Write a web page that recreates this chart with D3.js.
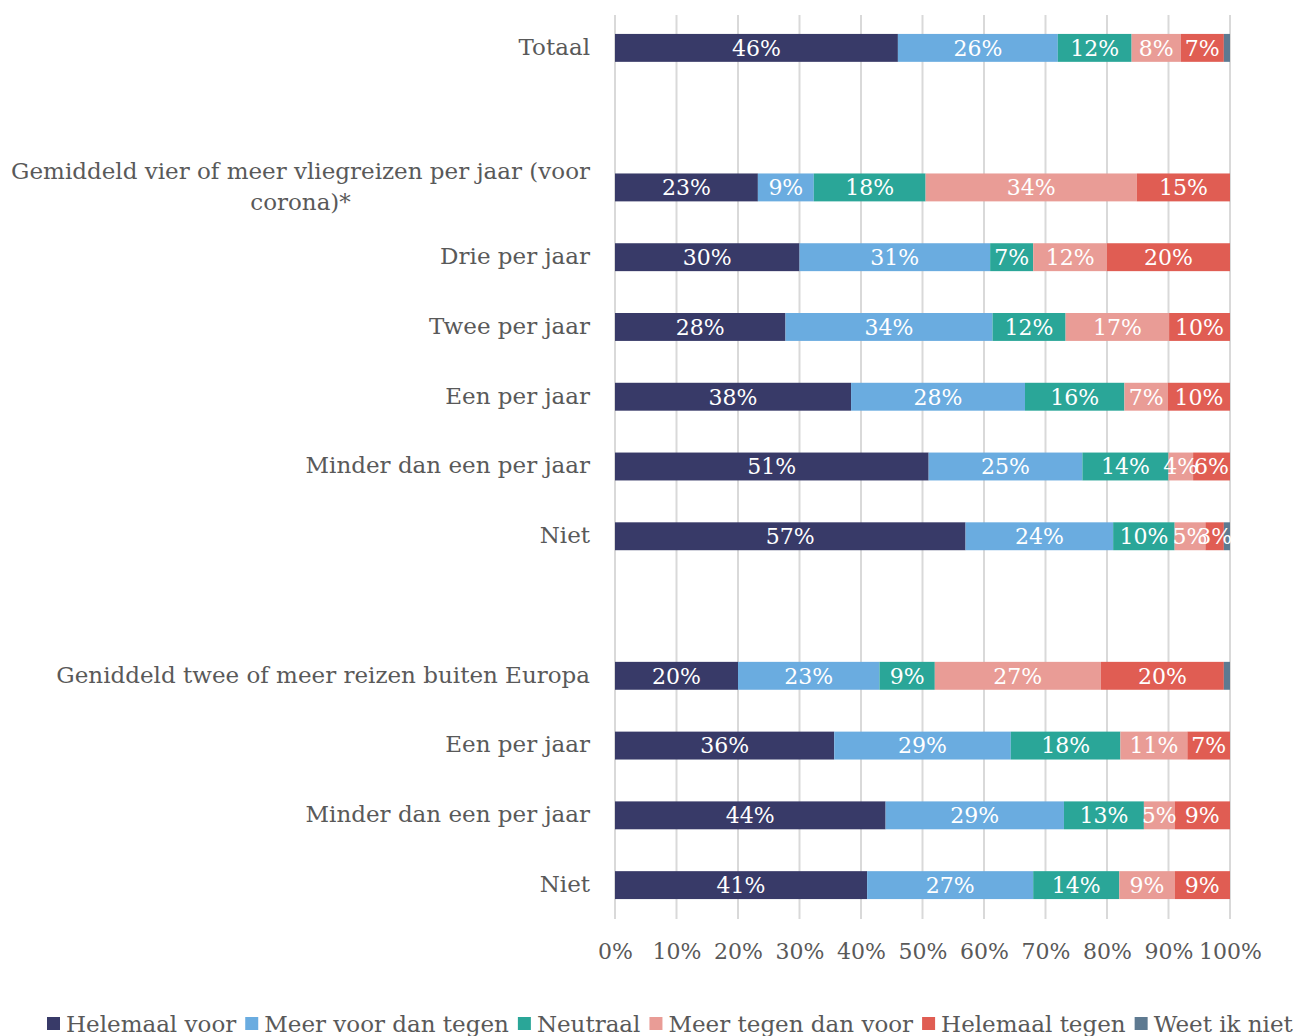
<!DOCTYPE html>
<html><head><meta charset="utf-8">
<script src="https://cdn.jsdelivr.net/npm/d3@7"></script>
<style>
html,body{margin:0;padding:0;background:#fff;}
svg{display:block;font-family:"DejaVu Serif",serif;}
</style></head>
<body><svg id="chart" width="1296" height="1036"></svg>
<script>
const categories = ["Totaal", "", "Gemiddeld vier of meer vliegreizen per jaar (voor corona)*", "Drie per jaar", "Twee per jaar", "Een per jaar", "Minder dan een per jaar", "Niet", "", "Geniddeld twee of meer reizen buiten Europa", "Een per jaar", "Minder dan een per jaar", "Niet"];
const seriesNames = ["Helemaal voor", "Meer voor dan tegen", "Neutraal", "Meer tegen dan voor", "Helemaal tegen", "Weet ik niet"];
const seriesColors = ["#383a68", "#6aace0", "#2aa698", "#e99c96", "#e05d53", "#5e7a91"];
const helemaalVoor  = [46, null, 23, 30, 28, 38, 51, 57, null, 20, 36, 44, 41];
const meerVoor      = [26, null,  9, 31, 34, 28, 25, 24, null, 23, 29, 29, 27];
const neutraal      = [12, null, 18,  7, 12, 16, 14, 10, null,  9, 18, 13, 14];
const meerTegen     = [ 8, null, 34, 12, 17,  7,  4,  5, null, 27, 11,  5,  9];
const helemaalTegen = [ 7, null, 15, 20, 10, 10,  6,  3, null, 20,  7,  9,  9];
const weetIkNiet    = [ 1, null,  0,  0,  0,  0,  0,  1, null,  1,  0,  0,  0];
const tickValues = [0, 10, 20, 30, 40, 50, 60, 70, 80, 90, 100];

const allSeries = [helemaalVoor, meerVoor, neutraal, meerTegen, helemaalTegen, weetIkNiet];
const svg = d3.select("#chart");
const plotL = 615, plotR = 1230, plotT = 15, plotB = 919;
const x = d3.scaleLinear().domain([0, 100]).range([plotL, plotR]);
const y = d3.scaleBand().domain(categories.map((c, i) => i)).range([13, 920]).paddingInner(0.6).paddingOuter(0.3);
const textColor = "#595959";

// gridlines
svg.append("g").selectAll("line").data(tickValues).join("line")
  .attr("x1", d => x(d)).attr("x2", d => x(d))
  .attr("y1", plotT).attr("y2", plotB)
  .attr("stroke", "#d9d9d9").attr("stroke-width", 2);

// stacked data (normalized to 100%)
const rows = categories.map((c, i) => {
  const vals = allSeries.map(s => s[i]);
  if (vals[0] == null) return null;
  const total = d3.sum(vals);
  let cum = 0;
  return vals.map((v, k) => { const s0 = cum / total * 100; cum += v; return {row: i, k, v, x0: s0, x1: cum / total * 100}; });
}).filter(r => r);
const segs = rows.flat().filter(d => d.v > 0);

const bars = svg.append("g");
bars.selectAll("rect").data(segs).join("rect")
  .attr("x", d => x(d.x0)).attr("width", d => x(d.x1) - x(d.x0))
  .attr("y", d => y(d.row)).attr("height", y.bandwidth())
  .attr("fill", d => seriesColors[d.k]);

bars.selectAll("text").data(segs.filter(d => d.v >= 2)).join("text")
  .attr("x", d => (x(d.x0) + x(d.x1)) / 2)
  .attr("y", d => y(d.row) + y.bandwidth() / 2)
  .attr("dy", "0.36em")
  .attr("text-anchor", "middle")
  .attr("fill", "#fff").attr("font-size", 22)
  .text(d => d.v + "%");

// category labels
const catG = svg.append("g");
const catFont = 23, lineH = 31, maxW = 585;
categories.forEach((c, i) => {
  if (!c) return;
  const cy = y(i) + y.bandwidth() / 2;
  const words = c.split(" ");
  const lines = [];
  let cur = [];
  const probe = catG.append("text").attr("font-size", catFont);
  words.forEach(w => {
    const test = cur.concat([w]).join(" ");
    probe.text(test);
    if (probe.node().getComputedTextLength() > maxW && cur.length) { lines.push(cur.join(" ")); cur = [w]; }
    else cur.push(w);
  });
  lines.push(cur.join(" "));
  probe.remove();
  if (lines.length === 1) {
    catG.append("text").attr("font-size", catFont).attr("fill", textColor).attr("text-anchor", "end")
      .attr("x", 590).attr("y", cy).attr("dy", "0.3em").text(lines[0]);
  } else {
    const widths = lines.map(l => { const p = catG.append("text").attr("font-size", catFont).text(l); const w = p.node().getComputedTextLength(); p.remove(); return w; });
    const maxLW = d3.max(widths);
    const cx = 590 - maxLW / 2;
    lines.forEach((l, j) => {
      catG.append("text").attr("font-size", catFont).attr("fill", textColor).attr("text-anchor", "middle")
        .attr("x", cx).attr("y", cy + (j - (lines.length - 1) / 2) * lineH).attr("dy", "0.3em").text(l);
    });
  }
});

// x axis
const axis = d3.axisBottom(x).tickValues(tickValues).tickFormat(d => d + "%").tickSize(0).tickPadding(0);
const ag = svg.append("g").attr("transform", `translate(0,${plotB})`).call(axis);
ag.select(".domain").remove();
ag.selectAll("text").attr("font-size", 22).attr("fill", textColor).attr("font-family", "DejaVu Serif, serif").attr("y", 33).attr("dy", "0.3em");

// legend
const lg = svg.append("g").attr("transform", "translate(47,1022)");
let lx = 0;
seriesNames.forEach((n, k) => {
  lg.append("rect").attr("x", lx).attr("y", -5).attr("width", 13).attr("height", 13).attr("fill", seriesColors[k]);
  const t = lg.append("text").attr("x", lx + 19).attr("y", 0).attr("dy", "0.42em").attr("font-size", 23).attr("fill", textColor).text(n);
  lx += 19 + t.node().getComputedTextLength() + 9;
});
</script></body></html>
